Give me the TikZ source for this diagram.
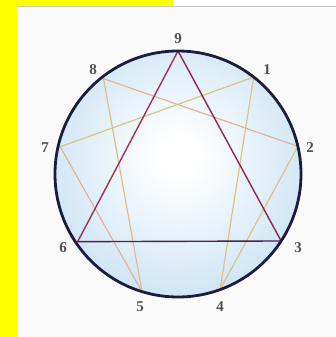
\documentclass[tikz,border=0pt]{standalone}
\usepackage{fontspec}
\newfontfamily\lblfont{Liberation Serif}
\usepackage{xcolor}
\definecolor{bandyel}{rgb}{1,1,0}
\definecolor{cblue}{RGB}{182,216,240}
\definecolor{ringc}{RGB}{28,28,62}
\definecolor{tanA}{RGB}{218,196,130}
\definecolor{tanB}{RGB}{226,180,150}
\definecolor{triA}{RGB}{160,48,86}
\definecolor{triB}{RGB}{140,40,80}
\definecolor{triC}{RGB}{80,30,80}
\definecolor{lblc}{RGB}{80,80,80}
\pgfdeclareradialshading{ennea}{\pgfpoint{0bp}{4bp}}{color(0bp)=(white); color(4bp)=(white); color(34bp)=(cblue!85); color(50bp)=(cblue)}
\tikzset{
  lbl/.style={text=lblc, font=\lblfont\fontsize{15}{17}\selectfont\bfseries, inner sep=0pt},
  hex/.style={line width=1.2pt, line cap=round},
  tri/.style={line width=1.4pt, line cap=round},
}
\begin{document}
\begin{tikzpicture}[x=1pt,y=1pt]
\useasboundingbox (0,0) rectangle (336,337);
\fill[white!98!black] (0,0) rectangle (336,337);
\fill[white] (173,330) rectangle (336,337);
\fill[bandyel] (0,0) rectangle (17,337);
\fill[bandyel] (0,331) rectangle (173,337);
\draw[black!22, line width=1pt] (17,330.5) -- (336,330.5);
\coordinate (c) at (178,163);
\path[shading=ennea] (c) circle (123);
\path (c) ++(90:123pt) coordinate (p9);
\path (c) ++(52:123pt) coordinate (p1);
\path (c) ++(13:123pt) coordinate (p2);
\path (c) ++(-33:123pt) coordinate (p3);
\path (c) ++(-70:123pt) coordinate (p4);
\path (c) ++(-107:123pt) coordinate (p5);
\path (c) ++(-146:121pt) coordinate (p6);
\path (c) ++(167:121pt) coordinate (p7);
\path (c) ++(128:121pt) coordinate (p8);
% hexad
\draw[hex, tanA] (p1) -- (p4);
\draw[hex, tanA] (p4) -- (p2);
\draw[hex, tanB] (p2) -- (p8);
\draw[hex, tanA!60!tanB] (p8) -- (p5);
\draw[hex, tanB] (p5) -- (p7);
\draw[hex, tanA] (p7) -- (p1);
% triangle
\draw[tri, triA] (p9) -- (p6);
\draw[tri, triB] (p9) -- (p3);
\draw[tri, triC] (p6) -- (p3);
\draw[ringc, line width=2.8pt] (c) circle (123);
% labels
\node[lbl] (l9) at (178,298) {9};
\node[lbl] (l1) at (267,267) {1};
\node[lbl] (l2) at (310,189) {2};
\node[lbl] (l3) at (298,89) {3};
\node[lbl] (l4) at (220,30) {4};
\node[lbl] (l5) at (140,30) {5};
\node[lbl] (l6) at (63,89) {6};
\node[lbl] (l7) at (45,189) {7};
\node[lbl] (l8) at (93,267) {8};
\end{tikzpicture}
\end{document}
